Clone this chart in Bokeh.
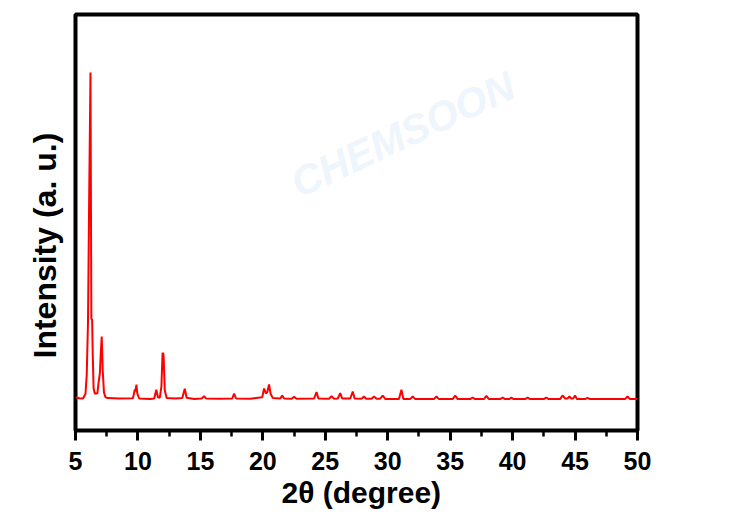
from bokeh.plotting import figure
from bokeh.models import Range1d, SingleIntervalTicker, Label, ColumnDataSource, Title
from bokeh.embed import file_html
from bokeh.resources import INLINE

# ---- data (2theta in degrees, intensity in counts) ----
two_theta = [5.0, 5.3, 5.6, 5.8, 5.9, 6.0, 6.1, 6.2, 6.27, 6.33, 6.38, 6.45, 6.55, 6.75, 6.85, 6.95,
             7.02, 7.1, 7.18, 7.28, 7.4, 7.6, 8.5, 9.6, 9.75, 9.8, 9.88, 9.95, 10.1, 11.0, 11.3, 11.47,
             11.6, 11.75, 11.88, 11.97, 12.05, 12.15, 12.3, 13.0, 13.55, 13.75, 13.9, 14.5, 15.1, 15.3,
             15.45, 16.5, 17.55, 17.7, 17.85, 19.0, 19.95, 20.1, 20.25, 20.35, 20.5, 20.62, 20.8, 21.4,
             21.55, 21.7, 22.3, 22.5, 22.7, 24.1, 24.3, 24.45, 25.3, 25.5, 25.7, 26.0, 26.2, 26.35, 27.0,
             27.2, 27.35, 27.9, 28.1, 28.25, 28.7, 28.9, 29.1, 29.4, 29.6, 29.8, 30.9, 31.1, 31.25, 31.8,
             32.0, 32.2, 33.7, 33.9, 34.1, 35.2, 35.4, 35.6, 36.6, 36.8, 37.0, 37.7, 37.9, 38.1, 39.0,
             39.2, 39.4, 39.75, 39.9, 40.05, 41.0, 41.2, 41.4, 42.5, 42.7, 42.9, 43.8, 44.0, 44.2, 44.4,
             44.55, 44.7, 44.85, 45.0, 45.15, 45.8, 46.0, 46.2, 49.0, 49.2, 49.4, 50.0]
intensity = [330, 305, 300, 420, 900, 2200, 5500, 8450, 2300, 2275, 1400, 550, 420, 430, 700, 925,
             1400, 1850, 1000, 450, 330, 310, 300, 305, 525, 480, 645, 420, 300, 290, 300, 520,
             330, 320, 600, 1445, 1400, 500, 310, 300, 310, 545, 320, 290, 300, 360,
             300, 295, 300, 425, 300, 295, 330, 550, 430, 450, 650, 420, 310, 300,
             375, 300, 295, 340, 295, 300, 460, 300, 295, 360, 295, 300, 435, 300, 300,
             475, 300, 295, 350, 295, 295, 350, 295, 295, 375, 290, 290, 520, 290, 285,
             350, 285, 285, 350, 285, 285, 375, 285, 285, 325, 285, 285, 365, 285, 285,
             325, 285, 285, 325, 285, 285, 325, 285, 285, 325, 285, 285, 375, 300, 300,
             350, 300, 300, 375, 285, 285, 315, 285, 285, 350, 285, 285]

x_ticks_interval = 5
x_title = "2\u03b8 (degree)"
y_title = "Intensity (a. u.)"
watermark = "CHEMSOON"

# ---- figure geometry ----
W, H = 735, 518
ML, MR, MT, MB = 75, 98, 14, 88
X0, X1 = 5, 50
Y0, Y1 = -500, 9900

p = figure(width=W, height=H, output_backend="svg", toolbar_location=None,
           x_range=Range1d(X0, X1), y_range=Range1d(Y0, Y1),
           min_border_left=ML, min_border_right=MR, min_border_top=MT, min_border_bottom=MB)
p.background_fill_color = "white"
p.border_fill_color = "white"
p.grid.visible = False
p.yaxis.visible = False
p.outline_line_color = "black"
p.outline_line_width = 4

fw = W - ML - MR
fh = H - MT - MB


def px_to_data(px, py):
    x = X0 + (px - ML) * (X1 - X0) / fw
    y = Y1 - (py - MT) * (Y1 - Y0) / fh
    return x, y


# faint watermark inside the frame
for (sx, sy) in [(293, 185)]:
    dx, dy = px_to_data(sx, sy)
    p.add_layout(Label(x=dx, y=dy, text=watermark, angle=25, angle_units="deg",
                       text_font="Liberation Sans", text_font_style="bold italic",
                       text_font_size="41px", text_color="#eef5fc",
                       text_align="left", text_baseline="alphabetic", level="underlay"))

src = ColumnDataSource(dict(x=two_theta, y=intensity))
p.line("x", "y", source=src, line_color="#ff0000", line_width=2)

ax = p.xaxis[0]
ax.ticker = SingleIntervalTicker(interval=x_ticks_interval, num_minor_ticks=2)
ax.axis_line_color = None
ax.major_tick_in = 0
ax.major_tick_out = 10
ax.minor_tick_in = 0
ax.minor_tick_out = 6
ax.major_tick_line_width = 3
ax.minor_tick_line_width = 2.5
ax.major_tick_line_color = "black"
ax.minor_tick_line_color = "black"
ax.major_label_text_font = "Liberation Sans"
ax.major_label_text_font_style = "bold"
ax.major_label_text_font_size = "25px"
ax.major_label_text_color = "black"
ax.major_label_standoff = 11

xt = Title(text=x_title, align="left", offset=206, standoff=3,
           text_font="Liberation Sans", text_font_style="bold", text_font_size="30px",
           text_color="black")
p.add_layout(xt, "below")

yt = Title(text=y_title, align="left", offset=72, standoff=25,
           text_font="Liberation Sans", text_font_style="bold", text_font_size="32px",
           text_color="black")
p.add_layout(yt, "left")

open("out.html", "w").write(file_html(p, INLINE))
